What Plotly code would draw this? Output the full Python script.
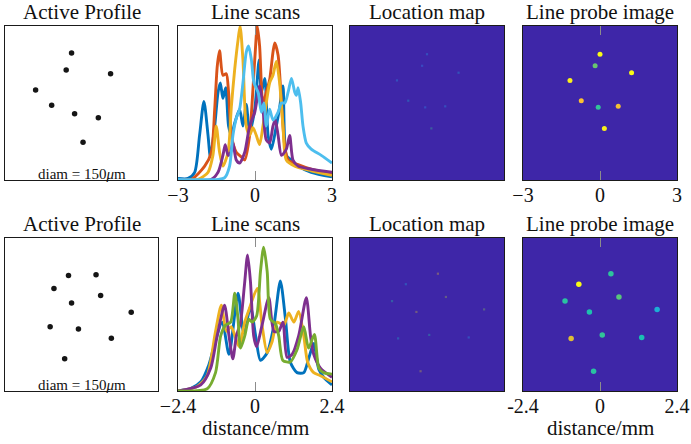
import plotly.graph_objects as go

# ---------------- data ----------------
# Active profile dot positions (normalised units)
top_profile_x = [-0.13, -0.20, 0.38, -0.60, -0.39, -0.09, 0.22, 0.02]
top_profile_y = [0.65, 0.43, 0.38, 0.17, -0.03, -0.14, -0.19, -0.51]
bot_profile_x = [-0.17, 0.19, -0.36, 0.25, -0.13, 0.65, -0.41, -0.04, 0.39, -0.22]
bot_profile_y = [0.51, 0.52, 0.34, 0.25, 0.15, 0.03, -0.16, -0.19, -0.31, -0.58]

# Reconstructed source positions (mm) and intensities
top_dot_x = [0.00, -0.19, 1.23, -1.17, -0.73, -0.07, 0.71, 0.17]
top_dot_y = [1.90, 1.45, 1.18, 0.88, 0.09, -0.17, -0.13, -0.99]
top_dot_val = [1.0, 0.66, 1.0, 0.98, 0.90, 0.58, 0.88, 0.98]
top_loc_val = [0.35, 0.30, 0.40, 0.35, 0.45, 0.30, 0.35, 0.60]

bot_dot_x = [0.34, -0.66, -1.09, 0.59, 1.78, -0.33, 0.07, -0.90, 1.30, -0.20]
bot_dot_y = [1.28, 0.95, 0.42, 0.55, 0.16, 0.08, -0.64, -0.75, -0.72, -1.78]
bot_dot_val = [0.57, 1.0, 0.56, 0.64, 0.42, 0.53, 0.58, 0.83, 0.52, 0.56]
bot_loc_val = [0.85, 0.40, 0.55, 0.75, 0.70, 0.80, 0.55, 0.45, 0.35, 0.80]

# Line scans, top row (x in mm, normalised intensity)
top_blue_x = [-3.0, -2.61, -2.35, -2.16, -1.99, -1.83, -1.74, -1.57, -1.44, -1.35, -1.25, -1.14, -1.03, -0.92,
              -0.79, -0.60, -0.47, -0.34, -0.21, -0.01, 0.16, 0.25, 0.38, 0.51, 0.64, 0.83, 0.96, 1.09, 1.22,
              1.42, 1.68, 2.19, 3.0]
top_blue_y = [0.01, 0.01, 0.05, 0.29, 0.51, 0.29, 0.15, 0.35, 0.57, 0.63, 0.53, 0.60, 0.35, 0.29,
              0.37, 0.46, 0.35, 0.49, 0.31, 0.46, 0.78, 0.57, 0.66, 0.29, 0.20, 0.35, 0.47, 0.61, 0.16,
              0.13, 0.09, 0.05, 0.02]
top_orange_x = [-3.0, -2.48, -1.96, -1.70, -1.57, -1.47, -1.38, -1.25, -1.12, -1.03, -0.92, -0.73, -0.53, -0.40,
                -0.21, -0.01, 0.09, 0.18, 0.31, 0.44, 0.57, 0.70, 0.77, 0.90, 1.03, 1.16, 1.29, 1.68, 2.19, 3.0]
top_orange_y = [0.004, 0.004, 0.09, 0.18, 0.46, 0.74, 0.84, 0.68, 0.69, 0.57, 0.29, 0.18, 0.15, 0.13,
                0.29, 0.78, 1.0, 0.87, 0.50, 0.57, 0.65, 0.83, 0.89, 0.81, 0.50, 0.22, 0.13, 0.10, 0.07, 0.04]
top_yellow_x = [-3.0, -2.22, -1.83, -1.64, -1.51, -1.38, -1.25, -1.05, -0.92, -0.79, -0.66, -0.58, -0.47, -0.34,
                -0.21, -0.08, 0.05, 0.18, 0.31, 0.44, 0.57, 0.70, 0.83, 0.96, 1.09, 1.22, 1.55, 2.19, 3.0]
top_yellow_y = [0.004, 0.004, 0.05, 0.16, 0.35, 0.18, 0.09, 0.18, 0.48, 0.72, 0.91, 1.0, 0.78, 0.35,
                0.29, 0.34, 0.29, 0.23, 0.35, 0.50, 0.63, 0.68, 0.77, 0.63, 0.35, 0.13, 0.09, 0.06, 0.03]
top_purple_x = [-3.0, -1.70, -1.44, -1.25, -1.16, -1.05, -0.95, -0.86, -0.73, -0.60, -0.40, -0.21, -0.01, 0.18,
                0.31, 0.44, 0.57, 0.70, 0.79, 0.90, 1.03, 1.22, 1.35, 1.48, 1.68, 2.19, 3.0]
top_purple_y = [0.004, 0.004, 0.05, 0.16, 0.23, 0.16, 0.18, 0.24, 0.13, 0.11, 0.18, 0.35, 0.44, 0.61,
                0.46, 0.26, 0.24, 0.35, 0.39, 0.29, 0.16, 0.20, 0.29, 0.13, 0.09, 0.07, 0.05]
top_lblue_x = [-3.0, -1.44, -1.18, -0.99, -0.86, -0.73, -0.60, -0.47, -0.34, -0.25, -0.14, -0.04, 0.12, 0.25,
               0.35, 0.44, 0.57, 0.70, 0.90, 1.03, 1.16, 1.29, 1.42, 1.55, 1.61, 1.68, 1.78, 1.87, 2.0, 2.19,
               2.58, 3.0]
top_lblue_y = [0.004, 0.004, 0.015, 0.09, 0.29, 0.40, 0.46, 0.63, 0.83, 0.87, 0.78, 0.63, 0.57, 0.44,
               0.50, 0.35, 0.46, 0.39, 0.44, 0.50, 0.50, 0.57, 0.66, 0.57, 0.55, 0.60, 0.50, 0.35, 0.24, 0.20,
               0.16, 0.11]

# Line scans, bottom row
bot_blue_x = [-2.4, -2.01, -1.69, -1.44, -1.28, -1.02, -0.81, -0.53, -0.35, -0.14, 0.02, 0.17, 0.38, 0.59,
              0.79, 0.95, 1.10, 1.31, 1.52, 1.67, 1.83, 1.99, 2.14, 2.40]
bot_blue_y = [0.0, 0.015, 0.06, 0.17, 0.29, 0.45, 0.24, 0.64, 0.38, 0.55, 0.36, 0.20, 0.25, 0.43,
              0.72, 0.47, 0.19, 0.12, 0.12, 0.21, 0.31, 0.14, 0.09, 0.04]
bot_yellow_x = [-2.4, -1.80, -1.49, -1.23, -1.05, -0.89, -0.74, -0.50, -0.32, -0.19, 0.07, 0.22, 0.38, 0.53,
                0.69, 0.90, 1.05, 1.21, 1.36, 1.52, 1.64, 1.83, 2.04, 2.40]
bot_yellow_y = [0.0, 0.03, 0.10, 0.39, 0.56, 0.39, 0.42, 0.29, 0.45, 0.53, 0.67, 0.43, 0.25, 0.32,
                0.45, 0.43, 0.51, 0.45, 0.52, 0.36, 0.19, 0.12, 0.10, 0.06]
bot_purple_x = [-2.4, -1.69, -1.38, -1.18, -0.95, -0.81, -0.69, -0.58, -0.45, -0.33, -0.23, -0.14, -0.04, 0.05,
                0.22, 0.43, 0.59, 0.74, 0.87, 1.00, 1.16, 1.36, 1.60, 1.73, 1.83, 2.04, 2.40]
bot_purple_y = [0.0, 0.04, 0.15, 0.36, 0.56, 0.36, 0.21, 0.36, 0.45, 0.69, 0.89, 0.71, 0.36, 0.29,
                0.43, 0.61, 0.39, 0.39, 0.45, 0.22, 0.24, 0.36, 0.61, 0.36, 0.24, 0.15, 0.09]
bot_green_x = [-2.4, -1.49, -1.23, -1.07, -0.92, -0.76, -0.63, -0.53, -0.45, -0.32, -0.19, -0.09, 0.05, 0.17,
               0.27, 0.38, 0.48, 0.64, 0.74, 0.87, 1.10, 1.31, 1.52, 1.67, 1.85, 1.99, 2.14, 2.40]
bot_green_y = [0.0, 0.015, 0.12, 0.36, 0.43, 0.45, 0.64, 0.47, 0.28, 0.36, 0.47, 0.45, 0.49, 0.78,
               0.94, 0.78, 0.47, 0.44, 0.36, 0.20, 0.19, 0.27, 0.42, 0.28, 0.37, 0.15, 0.12, 0.11]

top_ticks = [-3, 0, 3]
top_ticktext = ["\u22123", "0", "3"]
bot_ticks = [-2.4, 0, 2.4]
bot_ticktext_scan = ["\u22122.4", "0", "2.4"]
bot_ticktext_probe = ["-2.4", "0", "2.4"]
titles = ["Active Profile", "Line scans", "Location map", "Line probe image"]

# ---------------- styles ----------------
FONT = "Liberation Serif"
W, H = 691, 444
C_BLUE, C_ORANGE, C_YELLOW = "#0072BD", "#D95319", "#EDB120"
C_PURPLE, C_GREEN, C_LBLUE = "#7E2F8E", "#77AC30", "#4DBEEE"
parula = [[0.0, "#3e26a8"], [0.1, "#4743e5"], [0.2, "#4268fd"], [0.3, "#2d8ff0"],
          [0.4, "#1eaadb"], [0.5, "#12bebb"], [0.6, "#3ac58f"], [0.7, "#86c65a"],
          [0.8, "#d1bc37"], [0.9, "#fcc231"], [1.0, "#f9fb15"]]

col_px = [(5, 158), (178, 332), (350, 504), (523, 677)]
row_px = [(26, 180), (238, 391)]

fig = go.Figure()


def ax(i):
    return ("x" if i == 1 else f"x{i}"), ("y" if i == 1 else f"y{i}")


LW = 2.9
for r, (scan, rng) in enumerate([
    ([(top_blue_x, top_blue_y, C_BLUE), (top_orange_x, top_orange_y, C_ORANGE),
      (top_yellow_x, top_yellow_y, C_YELLOW), (top_purple_x, top_purple_y, C_PURPLE),
      (top_lblue_x, top_lblue_y, C_LBLUE)], 3),
    ([(bot_blue_x, bot_blue_y, C_BLUE), (bot_yellow_x, bot_yellow_y, C_YELLOW),
      (bot_purple_x, bot_purple_y, C_PURPLE), (bot_green_x, bot_green_y, C_GREEN)], 2.4)]):
    base = r * 4
    px = top_profile_x if r == 0 else bot_profile_x
    py = top_profile_y if r == 0 else bot_profile_y
    dx = top_dot_x if r == 0 else bot_dot_x
    dy = top_dot_y if r == 0 else bot_dot_y
    dv = top_dot_val if r == 0 else bot_dot_val
    lv = top_loc_val if r == 0 else bot_loc_val

    xa, ya = ax(base + 1)
    fig.add_trace(go.Scatter(x=px, y=py, mode="markers", xaxis=xa, yaxis=ya,
                             marker=dict(size=5.5, color="#151515"), hoverinfo="skip"))
    xa, ya = ax(base + 2)
    for sx, sy, c in scan:
        fig.add_trace(go.Scatter(x=sx, y=sy, mode="lines", xaxis=xa, yaxis=ya,
                                 line=dict(color=c, width=LW, shape="spline", smoothing=0.7),
                                 hoverinfo="skip"))
    for k, vals, size, op in [(3, lv, 2.2, 0.35), (4, dv, 5 if r == 0 else 5.5, 1.0)]:
        xa, ya = ax(base + k)
        fig.add_trace(go.Heatmap(z=[[0, 0], [0, 0]], x=[-rng, rng], y=[-rng, rng], xaxis=xa, yaxis=ya,
                                 colorscale=parula, zmin=0, zmax=1, showscale=False, hoverinfo="skip"))
        fig.add_trace(go.Scatter(x=dx, y=dy, mode="markers", xaxis=xa, yaxis=ya, opacity=op,
                                 marker=dict(size=size, color=vals, colorscale=parula, cmin=0, cmax=1,
                                             showscale=False,
                                             symbol="square" if k == 3 else "circle", line=dict(width=0)),
                                 hoverinfo="skip"))

layout = dict(width=W, height=H, margin=dict(l=0, r=0, t=0, b=0, pad=0, autoexpand=False),
              paper_bgcolor="white", plot_bgcolor="white", showlegend=False,
              font=dict(family=FONT, color="#111"))

for r in range(2):
    top, bot = row_px[r]
    rng = 3 if r == 0 else 2.4
    for c in range(4):
        i = r * 4 + c + 1
        left, right = col_px[c]
        xname = "xaxis" if i == 1 else f"xaxis{i}"
        yname = "yaxis" if i == 1 else f"yaxis{i}"
        xa = dict(domain=[left / W, right / W], anchor=("y" if i == 1 else f"y{i}"),
                  showgrid=False, zeroline=False, showline=True, linecolor="#1a1a1a", linewidth=1,
                  mirror=True, ticks="", showticklabels=False, fixedrange=True, automargin=False)
        ya = dict(domain=[1 - bot / H, 1 - top / H], anchor=("x" if i == 1 else f"x{i}"),
                  showgrid=False, zeroline=False, showline=True, linecolor="#1a1a1a", linewidth=1,
                  mirror=True, ticks="", showticklabels=False, fixedrange=True, automargin=False)
        if c == 0:
            xa["range"] = [-1, 1]
            ya["range"] = [-1, 1]
        elif c == 1:
            xa["range"] = [-rng, rng]
            ya["range"] = [0, 1]
        else:
            xa["range"] = [-rng, rng]
            ya["range"] = [-rng, rng]
        if c in (1, 3):
            xa.update(ticks="inside", ticklen=9, tickcolor="#8c8c8c", tickwidth=1, mirror="ticks",
                      tickvals=top_ticks if r == 0 else bot_ticks,
                      ticktext=top_ticktext if r == 0 else (bot_ticktext_scan if c == 1 else bot_ticktext_probe),
                      showticklabels=True, ticklabelstandoff=-3,
                      tickfont=dict(family=FONT, size=20, color="#111"))
        layout[xname] = xa
        layout[yname] = ya

ann = []
for r in range(2):
    top, bot = row_px[r]
    for c in range(4):
        left, right = col_px[c]
        ann.append(dict(text=titles[c], x=(left + right) / 2 / W, y=1 - (top - 14) / H,
                        xref="paper", yref="paper", xanchor="center", yanchor="middle",
                        showarrow=False, font=dict(family=FONT, size=21, color="#111")))
    left, right = col_px[0]
    ann.append(dict(text="diam = 150<i>\u03bc</i>m", x=(left + right) / 2 / W, y=1 - (bot - 6) / H,
                    xref="paper", yref="paper", xanchor="center", yanchor="middle",
                    showarrow=False, font=dict(family=FONT, size=15, color="#111")))
for c in (1, 3):
    left, right = col_px[c]
    ann.append(dict(text="distance/mm", x=(left + right) / 2 / W, y=1 - 428 / H,
                    xref="paper", yref="paper", xanchor="center", yanchor="middle",
                    showarrow=False, font=dict(family=FONT, size=21, color="#111")))
layout["annotations"] = ann

fig.update_layout(**layout)
fig.write_html("out.html", config={"responsive": False, "displayModeBar": False},
               post_script="document.body.style.margin='0px';document.body.style.overflow='hidden';")
